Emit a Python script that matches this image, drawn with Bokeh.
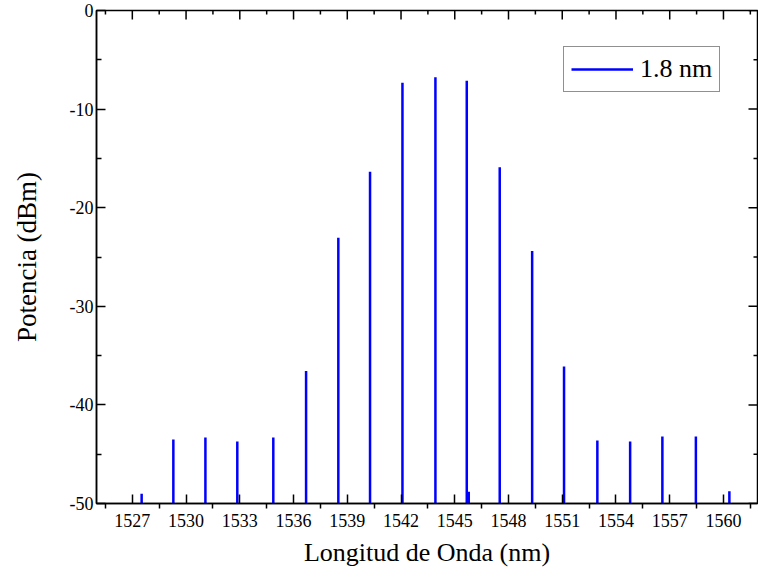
from bokeh.plotting import figure
from bokeh.models import (Range1d, FixedTicker, Legend, LegendItem,
                          ColumnDataSource, CustomJSTickFormatter)
from bokeh.embed import file_html
from bokeh.resources import INLINE
import math

# Wavelengths of spectral lines (nm) and peak power (dBm)
wavelength_nm = [1527.52, 1529.29, 1531.08, 1532.86, 1534.87, 1536.70, 1538.50,
                 1540.27, 1542.08, 1543.92, 1545.67, 1545.78, 1547.51, 1549.32,
                 1551.10, 1552.96, 1554.79, 1556.59, 1558.46, 1560.33]
power_dbm = [-49.0, -43.5, -43.3, -43.7, -43.3, -36.55, -23.05,
             -16.36, -7.33, -6.76, -7.13, -48.8, -15.9, -24.4,
             -36.1, -43.6, -43.7, -43.2, -43.2, -48.75]
floor_dbm = -50.0
series_label = "1.8 nm"
x_title = "Longitud de Onda (nm)"
y_title = "Potencia (dBm)"

# Axis ticks
x_major_ticks = [1527, 1530, 1533, 1536, 1539, 1542, 1545, 1548, 1551, 1554, 1557, 1560]
x_minor_ticks = [1525.5, 1528.5, 1531.5, 1534.5, 1537.5, 1540.5, 1543.5, 1546.5,
                 1549.5, 1552.5, 1555.5, 1558.5, 1561.5]
y_major_ticks = [-50, -40, -30, -20, -10, 0]
y_minor_ticks = [-45, -35, -25, -15, -5]
x_min, x_max = 1525, 1561.9
y_min, y_max = -50, 0

FONT = "Liberation Serif"

src = ColumnDataSource(dict(x=wavelength_nm, top=power_dbm,
                            base=[floor_dbm] * len(power_dbm)))

p = figure(width=758, height=579, output_backend="svg", toolbar_location=None,
           x_range=Range1d(x_min, x_max), y_range=Range1d(y_min, y_max),
           min_border_left=96, min_border_right=1, min_border_top=10,
           min_border_bottom=76, background_fill_color="white",
           border_fill_color="white")
p.xgrid.visible = False
p.ygrid.visible = False
p.outline_line_color = "black"
p.outline_line_width = 1.5
p.outline_line_alpha = 1.0

r = p.segment(x0="x", y0="base", x1="x", y1="top", source=src,
              line_color="#0000ff", line_width=2.5)

xa = p.xaxis[0]
xa.ticker = FixedTicker(ticks=x_major_ticks, minor_ticks=x_minor_ticks)
xa.axis_label = x_title
xa.axis_label_text_font = FONT
xa.axis_label_text_font_size = "26px"
xa.axis_label_text_font_style = "normal"
xa.axis_label_text_color = "black"
xa.axis_label_standoff = 8
xa.major_label_text_font = FONT
xa.major_label_text_font_size = "18px"
xa.major_label_text_color = "black"
xa.major_label_standoff = 5
xa.major_tick_in = 9
xa.major_tick_out = 0
xa.minor_tick_in = 0
xa.minor_tick_out = 5
xa.axis_line_width = 1.5
xa.major_tick_line_width = 1.5
xa.minor_tick_line_width = 1.5

ya = p.yaxis[0]
ya.ticker = FixedTicker(ticks=y_major_ticks, minor_ticks=y_minor_ticks)
ya.formatter = CustomJSTickFormatter(code="return tick.toFixed(0)")
ya.axis_label = y_title
ya.axis_label_text_font = FONT
ya.axis_label_text_font_size = "27px"
ya.axis_label_text_font_style = "normal"
ya.axis_label_text_color = "black"
ya.axis_label_standoff = 25
ya.major_label_text_font = FONT
ya.major_label_text_font_size = "18px"
ya.major_label_text_color = "black"
ya.major_label_standoff = 3
ya.major_tick_in = 9
ya.major_tick_out = 0
ya.minor_tick_in = 5
ya.minor_tick_out = 0
ya.axis_line_width = 1.5
ya.major_tick_line_width = 1.5
ya.minor_tick_line_width = 1.5

# Mirror ticks on the top and right edges of the frame (pointing inward)
tick_kw = dict(line_color="black", line_width=1.5, length_units="screen")
p.ray(x=x_major_ticks, y=[y_max] * len(x_major_ticks), length=9,
      angle=-math.pi / 2, **tick_kw)
p.ray(x=x_minor_ticks, y=[y_max] * len(x_minor_ticks), length=4,
      angle=-math.pi / 2, **tick_kw)
p.ray(x=[x_max] * len(y_major_ticks), y=y_major_ticks, length=9,
      angle=math.pi, **tick_kw)
p.ray(x=[x_max] * len(y_minor_ticks), y=y_minor_ticks, length=4,
      angle=math.pi, **tick_kw)

legend = Legend(items=[LegendItem(label=series_label, renderers=[r])],
                location=(467, 411), label_text_font=FONT,
                label_text_font_size="26px", label_text_color="black",
                glyph_width=62, glyph_height=20, label_standoff=7,
                padding=7, margin=0, border_line_color="#222222",
                border_line_width=1.5, background_fill_alpha=1.0)
p.add_layout(legend)

open("out.html", "w").write(file_html(p, INLINE))
